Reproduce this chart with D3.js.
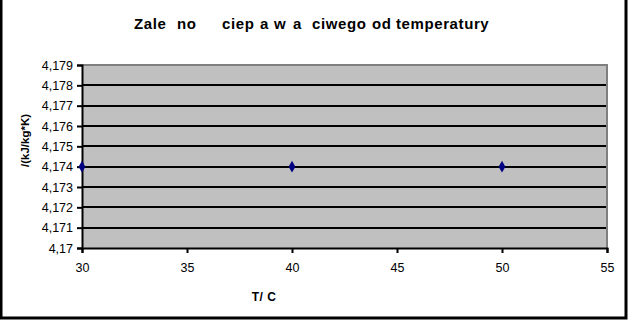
<!DOCTYPE html>
<html>
<head>
<meta charset="utf-8">
<script src="https://cdn.jsdelivr.net/npm/d3@7"></script>
<style>
  body { margin: 0; background: #fff; }
  svg { display: block; font-family: Arial, "Liberation Sans", sans-serif; }
</style>
</head>
<body>
<div id="chart"></div>
<script>
// dane
const temps = [30, 40, 50];
const cpValues = [4.174, 4.174, 4.174];
const xTicks = [30, 35, 40, 45, 50, 55];
const yTicks = [4.17, 4.171, 4.172, 4.173, 4.174, 4.175, 4.176, 4.177, 4.178, 4.179];
// tytuł - brakujące polskie znaki widoczne jako przerwy
const titleWords = ['Zale', 'no', 'ciep', 'a', 'w', 'a', 'ciwego', 'od', 'temperatury'];
const titleWordX = [134, 177, 222, 260, 274, 293, 312, 372, 396];
const xLabel = 'T/ C';
const yLabel = '/(kJ/kg*K)';

const W = 628, H = 320;
const plot = { left: 82, top: 65, right: 607, bottom: 248 };

const svg = d3.select('#chart').append('svg')
    .attr('width', W)
    .attr('height', H);

// ramka zewnętrzna
svg.append('path')
    .attr('d', `M1,0 V${H - 2} H${W - 2} V0`)
    .attr('fill', 'none')
    .attr('stroke', '#000')
    .attr('stroke-width', 3);

const x = d3.scaleLinear().domain([30, 55]).range([plot.left, plot.right]);
const y = d3.scaleLinear().domain([4.17, 4.179]).range([plot.bottom, plot.top]);

// tło obszaru wykresu
svg.append('rect')
    .attr('x', plot.left)
    .attr('y', plot.top)
    .attr('width', plot.right - plot.left)
    .attr('height', plot.bottom - plot.top)
    .attr('fill', '#c0c0c0');

// linie siatki
svg.selectAll('line.grid')
    .data(yTicks.slice(1, -1))
    .enter()
    .append('line')
    .attr('class', 'grid')
    .attr('x1', plot.left)
    .attr('x2', plot.right)
    .attr('y1', d => Math.round(y(d)))
    .attr('y2', d => Math.round(y(d)))
    .attr('stroke', '#000')
    .attr('stroke-width', 2);

// szara ramka góra/prawo
svg.append('path')
    .attr('d', `M${plot.left},${plot.top} H${plot.right} V${plot.bottom}`)
    .attr('fill', 'none')
    .attr('stroke', '#808080')
    .attr('stroke-width', 2);

const fmt = d => String(+d.toFixed(3)).replace('.', ',');

// oś Y
const yAxis = svg.append('g')
    .attr('transform', `translate(${plot.left},0)`)
    .call(d3.axisLeft(y).tickValues(yTicks).tickFormat(fmt).tickSize(5).tickPadding(4));
yAxis.select('.domain').attr('stroke-width', 2);
yAxis.selectAll('.tick line').attr('stroke-width', 2);
yAxis.selectAll('text').attr('font-size', 12.5).attr('fill', '#000');

// oś X
const xAxis = svg.append('g')
    .attr('transform', `translate(0,${plot.bottom})`)
    .call(d3.axisBottom(x).tickValues(xTicks).tickSize(5).tickPadding(10));
xAxis.select('.domain').attr('stroke-width', 2);
xAxis.selectAll('.tick line').attr('stroke-width', 2);
xAxis.selectAll('text').attr('font-size', 12.5).attr('fill', '#000');

// punkty pomiarowe (romby)
svg.selectAll('path.pt')
    .data(temps.map((t, i) => [t, cpValues[i]]))
    .enter()
    .append('path')
    .attr('class', 'pt')
    .attr('d', d3.symbol().type(d3.symbolDiamond).size(40))
    .attr('transform', d => `translate(${x(d[0])},${y(d[1])})`)
    .attr('fill', '#000080');

// tytuł
const title = svg.append('text')
    .attr('y', 29)
    .attr('font-size', 15)
    .attr('font-weight', 'bold')
    .attr('letter-spacing', 0.6);
title.selectAll('tspan')
    .data(titleWords)
    .enter()
    .append('tspan')
    .attr('x', (d, i) => titleWordX[i])
    .text(d => d);

// opisy osi
svg.append('text')
    .attr('x', 264)
    .attr('y', 301)
    .attr('text-anchor', 'middle')
    .attr('font-size', 12)
    .attr('font-weight', 'bold')
    .attr('letter-spacing', 0.5)
    .text(xLabel);

svg.append('text')
    .attr('transform', 'translate(29,167) rotate(-90)')
    .attr('text-anchor', 'start')
    .attr('font-size', 11.5)
    .attr('font-weight', 'bold')
    .text(yLabel);
</script>
</body>
</html>
